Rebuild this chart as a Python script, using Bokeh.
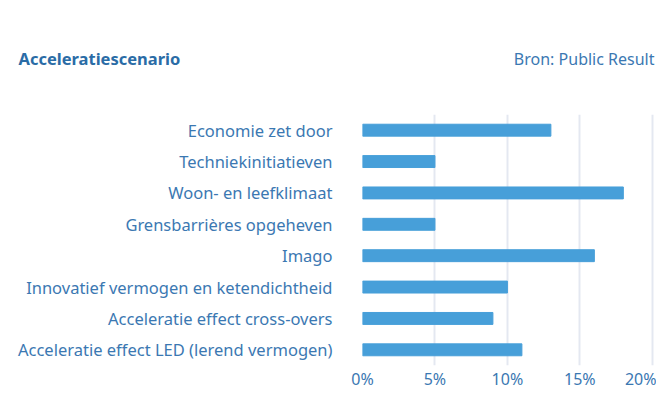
from bokeh.plotting import figure
from bokeh.models import Range1d, FactorRange, Title, FixedTicker, PrintfTickFormatter, ColumnDataSource
from bokeh.embed import file_html
from bokeh.resources import INLINE

categories = [
    "Economie zet door",
    "Techniekinitiatieven",
    "Woon- en leefklimaat",
    "Grensbarrières opgeheven",
    "Imago",
    "Innovatief vermogen en ketendichtheid",
    "Acceleratie effect cross-overs",
    "Acceleratie effect LED (lerend vermogen)",
]
values = [13, 5, 18, 5, 16, 10, 9, 11]
ticks = [0, 5, 10, 15, 20]
title_text = "Acceleratiescenario"
source_text = "Bron: Public Result"

LABEL_COLOR = "#3b78b2"
TITLE_COLOR = "#2a6ca6"
BAR_COLOR = "#479fd9"
FONT = "Noto Sans"

W, H = 656, 392
TOP, BOTTOM, LEFT = 80, 24, 362
src = ColumnDataSource(dict(cat=categories, val=values))

p = figure(width=W, height=H, output_backend="svg", toolbar_location=None,
           y_range=FactorRange(*list(reversed(categories))),
           x_range=Range1d(0, 20.15),
           min_border_left=LEFT, min_border_right=2,
           min_border_top=TOP, min_border_bottom=BOTTOM)
p.outline_line_color = None
p.hbar(y="cat", right="val", left=0, height=0.38, color=BAR_COLOR, source=src)

for ax in (p.xaxis, p.yaxis):
    ax.axis_line_color = None
    ax.major_tick_line_color = None
    ax.minor_tick_line_color = None
    ax.major_tick_out = 0
    ax.minor_tick_out = 0
    ax.major_tick_in = 0
    ax.major_label_text_color = LABEL_COLOR
    ax.major_label_text_font = FONT

p.xaxis.ticker = FixedTicker(ticks=ticks)
p.xaxis.formatter = PrintfTickFormatter(format="%d%%")
p.xaxis.major_label_text_font_size = "16px"
p.xaxis.major_label_standoff = 2

p.yaxis.major_label_text_font_size = "16.5px"
p.yaxis.major_label_standoff = 30

p.ygrid.grid_line_color = None
p.xgrid.ticker = FixedTicker(ticks=ticks)
p.xgrid.grid_line_color = "#e4e8f1"
p.xgrid.grid_line_width = 2

p.title = Title(text=title_text, align="left", offset=18 - LEFT, standoff=-139,
                text_font=FONT, text_font_style="bold",
                text_font_size="16.5px", text_color=TITLE_COLOR)
p.add_layout(Title(text=source_text, align="right", standoff=90,
                   text_font=FONT, text_font_style="normal", text_font_size="16px",
                   text_color=LABEL_COLOR), "above")

open("out.html", "w").write(file_html(p, INLINE))
